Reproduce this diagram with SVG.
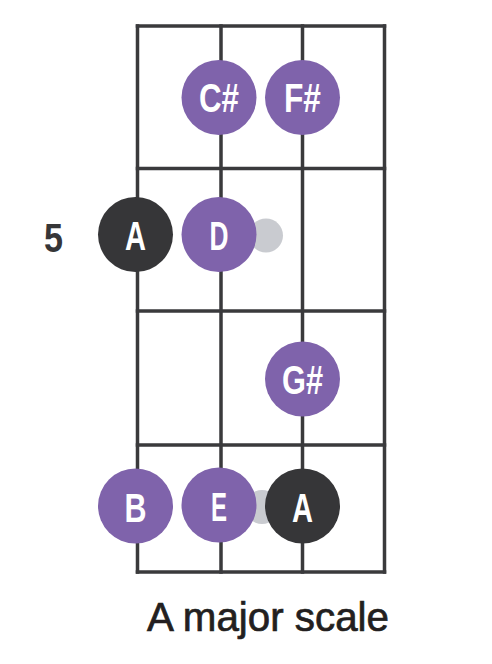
<svg xmlns="http://www.w3.org/2000/svg" width="492" height="664" viewBox="0 0 492 664">
<style>
.ln{stroke:#3a3a3c;stroke-width:3.5;fill:none;stroke-linecap:square}
.p{fill:#7f63ab}
.d{fill:#363638}
.g{fill:#c9cbd0}
.t{font-family:"Liberation Sans Narrow","Liberation Sans",sans-serif;font-weight:bold;font-size:40px;fill:#ffffff;text-anchor:middle}
</style>
<rect width="492" height="664" fill="#ffffff"/>
<g id="connectors">
<path class="ln" d="M137.5 26V572M221 26V572M302.5 26V572M384.5 26V572"/>
<path class="ln" d="M137.5 26H384.5M137.5 168.5H384.5M137.5 311H384.5M137.5 445H384.5M137.5 572H384.5"/>
</g>
<g id="dot1"><circle class="g" cx="266" cy="235.5" r="17"/></g>
<g id="dot2"><circle class="g" cx="262" cy="507" r="17"/></g>
<g id="n-cs"><circle class="p" cx="219" cy="97.5" r="37.5"/><text class="t" x="219" y="111.5" textLength="40" lengthAdjust="spacingAndGlyphs">C#</text></g>
<g id="n-fs"><circle class="p" cx="302.5" cy="97.5" r="37.5"/><text class="t" x="302.5" y="111.5" textLength="37" lengthAdjust="spacingAndGlyphs">F#</text></g>
<g id="n-a1"><circle class="d" cx="135.5" cy="234.5" r="37.5"/><text class="t" x="135.5" y="250" textLength="21" lengthAdjust="spacingAndGlyphs">A</text></g>
<g id="n-d"><circle class="p" cx="219" cy="234.5" r="37.5"/><text class="t" x="219" y="250" textLength="19" lengthAdjust="spacingAndGlyphs">D</text></g>
<g id="n-gs"><circle class="p" cx="302.5" cy="379" r="37.5"/><text class="t" x="302.5" y="394" textLength="41" lengthAdjust="spacingAndGlyphs">G#</text></g>
<g id="n-b"><circle class="p" cx="135.5" cy="506" r="37.5"/><text class="t" x="135.5" y="521.5" textLength="22" lengthAdjust="spacingAndGlyphs">B</text></g>
<g id="n-e"><circle class="p" cx="219" cy="505" r="37.5"/><text class="t" x="219" y="520.5" textLength="16" lengthAdjust="spacingAndGlyphs">E</text></g>
<g id="n-a2"><circle class="d" cx="302.5" cy="506" r="37.5"/><text class="t" x="302.5" y="521.5" textLength="21" lengthAdjust="spacingAndGlyphs">A</text></g>
<g id="labels">
<text x="53.5" y="252.3" font-family="'Liberation Sans Narrow','Liberation Sans',sans-serif" font-weight="bold" font-size="41" fill="#363638" text-anchor="middle" textLength="19" lengthAdjust="spacingAndGlyphs">5</text>
<text x="268" y="631" font-family="'Liberation Sans Narrow','Liberation Sans',sans-serif" font-size="40" fill="#231f20" stroke="#231f20" stroke-width="0.7" text-anchor="middle" textLength="242" lengthAdjust="spacingAndGlyphs">A major scale</text>
</g>
</svg>
